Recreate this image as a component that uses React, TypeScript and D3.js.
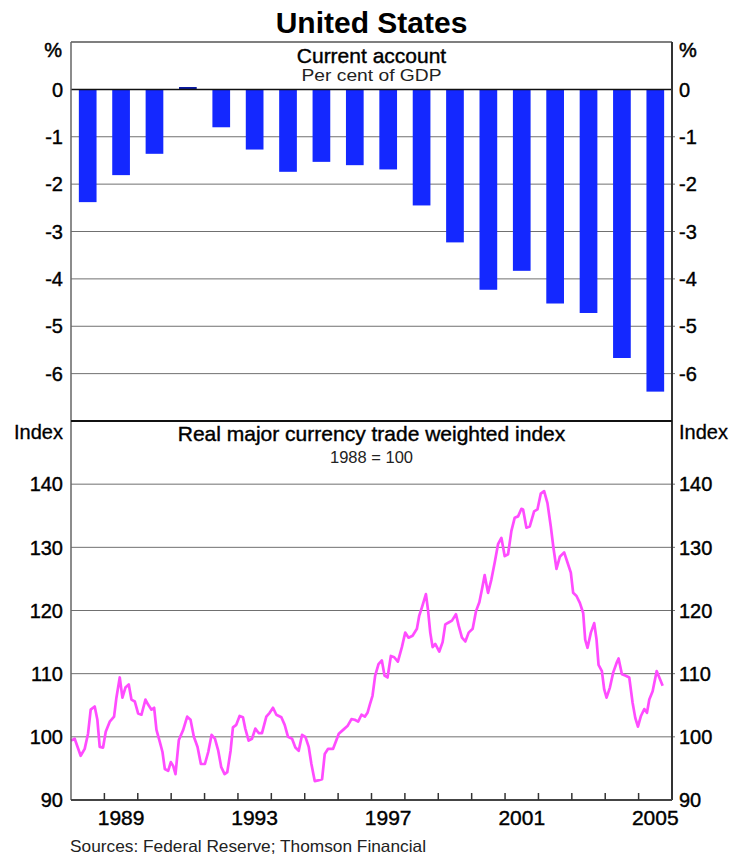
import React, { useEffect, useRef } from 'react';
import { select, scaleLinear, scaleBand, line } from 'd3';

// current account, per cent of GDP (annual)
const years = [1988, 1989, 1990, 1991, 1992, 1993, 1994, 1995, 1996, 1997, 1998, 1999, 2000, 2001, 2002, 2003, 2004, 2005];
const currentAccount = [-2.38, -1.81, -1.36, 0.05, -0.8, -1.27, -1.74, -1.53, -1.6, -1.69, -2.45, -3.23, -4.23, -3.83, -4.52, -4.72, -5.67, -6.38];

// real major currency TWI, 1988 = 100 (roughly monthly)
const twiDates = [
  1988.0, 1988.11, 1988.29, 1988.41, 1988.51, 1988.59, 1988.71, 1988.79, 1988.86, 1988.96,
  1989.04, 1989.16, 1989.29, 1989.36, 1989.46, 1989.54, 1989.63, 1989.73, 1989.81, 1989.91,
  1990.01, 1990.11, 1990.23, 1990.31, 1990.41, 1990.49, 1990.56, 1990.66, 1990.74, 1990.81, 1990.91, 1990.99,
  1991.06, 1991.13, 1991.23, 1991.36, 1991.48, 1991.58, 1991.68, 1991.79, 1991.89,
  1992.01, 1992.11, 1992.21, 1992.31, 1992.41, 1992.5, 1992.6, 1992.68, 1992.78, 1992.85, 1992.95,
  1993.05, 1993.15, 1993.22, 1993.32, 1993.42, 1993.52, 1993.62, 1993.72, 1993.85, 1993.95,
  1994.05, 1994.15, 1994.3, 1994.4, 1994.5, 1994.62, 1994.72, 1994.82, 1994.92,
  1995.02, 1995.12, 1995.2, 1995.3, 1995.4, 1995.52, 1995.6, 1995.7, 1995.85, 1995.95,
  1996.02, 1996.15, 1996.28, 1996.4, 1996.5, 1996.6, 1996.7, 1996.8, 1996.88, 1996.95,
  1997.03, 1997.11, 1997.21, 1997.31, 1997.39, 1997.48, 1997.58, 1997.68, 1997.79, 1997.91,
  1998.01, 1998.11, 1998.23, 1998.36, 1998.43, 1998.51, 1998.63, 1998.69, 1998.76, 1998.83, 1998.91,
  1999.03, 1999.13, 1999.21, 1999.31, 1999.41, 1999.53, 1999.61, 1999.71, 1999.81, 1999.91,
  2000.03, 2000.13, 2000.23, 2000.31, 2000.39, 2000.49, 2000.59, 2000.69, 2000.79, 2000.89, 2000.99,
  2001.09, 2001.19, 2001.29, 2001.39, 2001.49, 2001.54, 2001.64, 2001.74, 2001.87, 2001.97,
  2002.07, 2002.17, 2002.27, 2002.37, 2002.45, 2002.54, 2002.64, 2002.77, 2002.87, 2002.97,
  2003.04, 2003.14, 2003.24, 2003.34, 2003.4, 2003.47, 2003.57, 2003.67, 2003.74, 2003.8, 2003.9, 2003.97,
  2004.04, 2004.14, 2004.24, 2004.34, 2004.4, 2004.5, 2004.6, 2004.72, 2004.82, 2004.9, 2004.98,
  2005.07, 2005.17, 2005.25, 2005.32, 2005.42, 2005.54, 2005.62, 2005.72,
];
const twiValues = [
  99.4, 99.7, 97.0, 98.1, 100.5, 104.3, 104.8, 102.7, 98.4, 98.3,
  100.8, 102.4, 103.2, 106.2, 109.4, 106.2, 107.8, 108.3, 105.9, 105.6,
  103.7, 103.5, 105.9, 105.1, 104.3, 104.6, 101.1, 99.2, 97.6, 94.9, 94.6, 96.0,
  95.4, 94.1, 99.5, 101.1, 103.2, 102.7, 100.0, 98.4, 95.7,
  95.7, 97.6, 100.3, 99.7, 97.8, 95.2, 94.1, 94.4, 97.8, 101.5, 101.9,
  103.3, 103.1, 101.3, 99.4, 99.7, 101.3, 100.6, 100.6, 103.2, 103.8,
  104.6, 103.5, 103.1, 101.9, 100.0, 99.7, 98.3, 97.8, 100.3,
  100.0, 98.4, 95.7, 93.0, 93.1, 93.3, 97.3, 98.1, 98.1, 99.5,
  100.5, 101.1, 101.7, 102.8, 102.7, 102.4, 103.5, 103.2, 103.8, 105.1,
  106.5, 109.7, 111.5, 112.1, 109.7, 109.4, 112.8, 112.6, 111.9, 114.2,
  116.5, 115.7, 116.0, 117.1, 119.2, 120.5, 122.6, 120.2, 116.5, 114.2, 114.7,
  113.5, 115.0, 117.8, 118.1, 118.4, 119.4, 117.6, 115.7, 115.1, 116.5,
  117.1, 119.9, 121.3, 123.4, 125.6, 122.8, 124.9, 127.6, 130.5, 131.5, 128.6,
  128.9, 132.6, 134.7, 134.9, 136.1, 136.0, 133.1, 133.3, 135.7, 136.0,
  138.5, 138.9, 137.0, 133.3, 129.9, 126.6, 128.5, 129.2, 127.6, 126.0,
  122.8, 122.3, 121.2, 119.6, 115.4, 114.1, 116.5, 118.0, 115.4, 111.4, 110.4, 107.5,
  106.2, 107.8, 110.2, 111.7, 112.4, 109.9, 109.7, 109.4, 105.4, 103.0, 101.6,
  103.3, 104.4, 103.8, 105.9, 107.2, 110.4, 109.4, 108.1,
];

const caTicks = [0, -1, -2, -3, -4, -5, -6];
const twiTicks = [90, 100, 110, 120, 130, 140];
const yearTicks = [1989, 1990, 1991, 1992, 1993, 1994, 1995, 1996, 1997, 1998, 1999, 2000, 2001, 2002, 2003, 2004, 2005];
const yearLabels = [1989, 1993, 1997, 2001, 2005];

function App() {
  const ref = useRef<SVGSVGElement>(null);

  const width = 735;
  const height = 857;
  const left = 71;
  const right = 672;
  const topY = 42;
  const midY = 421;
  const bottomY = 800;
  const font = 'Arial, "Liberation Sans", sans-serif';

  useEffect(() => {
    const svg = select(ref.current);
    svg.selectAll('*').remove();

    const x = scaleLinear().domain([1988, 2006]).range([left, right]);
    const xBand = scaleBand<string>()
      .domain(years.map(String))
      .range([left, right])
      .paddingInner(0.47)
      .paddingOuter(0.235);
    const yCa = scaleLinear().domain([-7, 1]).range([midY, topY]);
    const yTwi = scaleLinear().domain([90, 150]).range([bottomY, midY]);

    // gridlines
    svg.append('g')
      .selectAll('line')
      .data(caTicks.filter(d => d !== 0))
      .join('line')
      .attr('x1', left).attr('x2', right + 3)
      .attr('y1', d => yCa(d)).attr('y2', d => yCa(d))
      .attr('stroke', '#707070').attr('stroke-width', 1);

    svg.append('g')
      .selectAll('line')
      .data(twiTicks.filter(d => d !== 90))
      .join('line')
      .attr('x1', left).attr('x2', right + 3)
      .attr('y1', d => yTwi(d)).attr('y2', d => yTwi(d))
      .attr('stroke', '#707070').attr('stroke-width', 1);

    // bars
    svg.append('g')
      .selectAll('rect')
      .data(currentAccount)
      .join('rect')
      .attr('x', (d, i) => xBand(String(years[i])) as number)
      .attr('width', xBand.bandwidth())
      .attr('y', d => yCa(Math.max(0, d)))
      .attr('height', d => Math.abs(yCa(d) - yCa(0)))
      .attr('fill', (d) => d > 0 ? '#0a1aa0' : '#1428ff');

    // zero line
    svg.append('line')
      .attr('x1', left).attr('x2', right)
      .attr('y1', yCa(0)).attr('y2', yCa(0))
      .attr('stroke', '#111').attr('stroke-width', 1.5);

    // TWI line
    const twiLine = line<number>()
      .x((d, i) => x(twiDates[i]))
      .y(d => yTwi(d));
    svg.append('path')
      .datum(twiValues)
      .attr('d', twiLine)
      .attr('fill', 'none')
      .attr('stroke', '#ff4cff')
      .attr('stroke-width', 2.7)
      .attr('stroke-linejoin', 'round');

    // frame
    svg.append('line').attr('x1', left).attr('x2', right).attr('y1', topY).attr('y2', topY)
      .attr('stroke', '#555').attr('stroke-width', 1.5);
    svg.append('line').attr('x1', left).attr('x2', left).attr('y1', topY).attr('y2', bottomY)
      .attr('stroke', '#666').attr('stroke-width', 1.5);
    svg.append('line').attr('x1', right).attr('x2', right).attr('y1', topY).attr('y2', bottomY)
      .attr('stroke', '#333').attr('stroke-width', 2);
    svg.append('line').attr('x1', left).attr('x2', right).attr('y1', midY).attr('y2', midY)
      .attr('stroke', '#111').attr('stroke-width', 2);
    svg.append('line').attr('x1', left).attr('x2', right).attr('y1', bottomY).attr('y2', bottomY)
      .attr('stroke', '#444').attr('stroke-width', 2);

    // year ticks
    svg.append('g')
      .selectAll('line')
      .data(yearTicks)
      .join('line')
      .attr('x1', d => x(d)).attr('x2', d => x(d))
      .attr('y1', bottomY).attr('y2', bottomY - 7)
      .attr('stroke', '#333').attr('stroke-width', 1.5);

    // year labels, centred on the year
    svg.append('g')
      .selectAll('text')
      .data(yearLabels)
      .join('text')
      .attr('x', d => x(d + 0.5))
      .attr('y', 825)
      .attr('text-anchor', 'middle')
      .attr('font-family', font)
      .attr('font-size', 21)
      .attr('stroke', '#000').attr('stroke-width', 0.4)
      .text(d => String(d));

    // y tick labels, both sides
    const tickLabel = (ticks: number[], scale: (v: number) => number) => {
      [{ xPos: 63, anchor: 'end' }, { xPos: 679, anchor: 'start' }].forEach(side => {
        svg.append('g')
          .selectAll('text')
          .data(ticks)
          .join('text')
          .attr('x', side.xPos)
          .attr('y', d => scale(d))
          .attr('dy', '0.36em')
          .attr('text-anchor', side.anchor)
          .attr('font-family', font)
          .attr('font-size', 20)
          .attr('stroke', '#000').attr('stroke-width', 0.4)
          .text(d => String(d));
      });
    };
    tickLabel(caTicks, yCa);
    tickLabel(twiTicks, yTwi);

    // unit labels and titles
    const label = (txt: string, xPos: number, yPos: number, size: number, anchor: string, opts: any = {}) => {
      const t = svg.append('text')
        .attr('x', xPos).attr('y', yPos)
        .attr('text-anchor', anchor)
        .attr('font-family', font)
        .attr('font-size', size)
        .attr('font-weight', opts.bold ? 'bold' : 'normal')
        .attr('fill', opts.fill || '#000')
        .text(txt);
      if (opts.heavy) t.attr('stroke', opts.fill || '#000').attr('stroke-width', opts.heavy);
      if (opts.len) t.attr('textLength', opts.len).attr('lengthAdjust', 'spacingAndGlyphs');
    };
    label('%', 62, 57, 20, 'end', { heavy: 0.5 });
    label('%', 679, 57, 20, 'start', { heavy: 0.5 });
    label('Index', 63, 439, 20, 'end', { heavy: 0.3 });
    label('Index', 679, 439, 20, 'start', { heavy: 0.3 });

    const cx = (left + right) / 2;
    label('United States', cx, 33, 30, 'middle', { bold: true });
    label('Current account', cx, 63, 21, 'middle', { heavy: 0.4 });
    label('Per cent of GDP', cx, 81, 16.5, 'middle', { fill: '#222', len: 140 });
    label('Real major currency trade weighted index', cx, 441, 21, 'middle', { heavy: 0.4 });
    label('1988 = 100', cx, 463, 16.5, 'middle', { fill: '#222' });
    label('Sources: Federal Reserve; Thomson Financial', 70, 852, 16.5, 'start', { fill: '#222', len: 356 });
  }, []);

  return (
    <div style={{ position: 'absolute', left: 0, top: 0 }}>
      <svg ref={ref} width={width} height={height} style={{ display: 'block', background: '#fff' }} />
    </div>
  );
}

export default App;
